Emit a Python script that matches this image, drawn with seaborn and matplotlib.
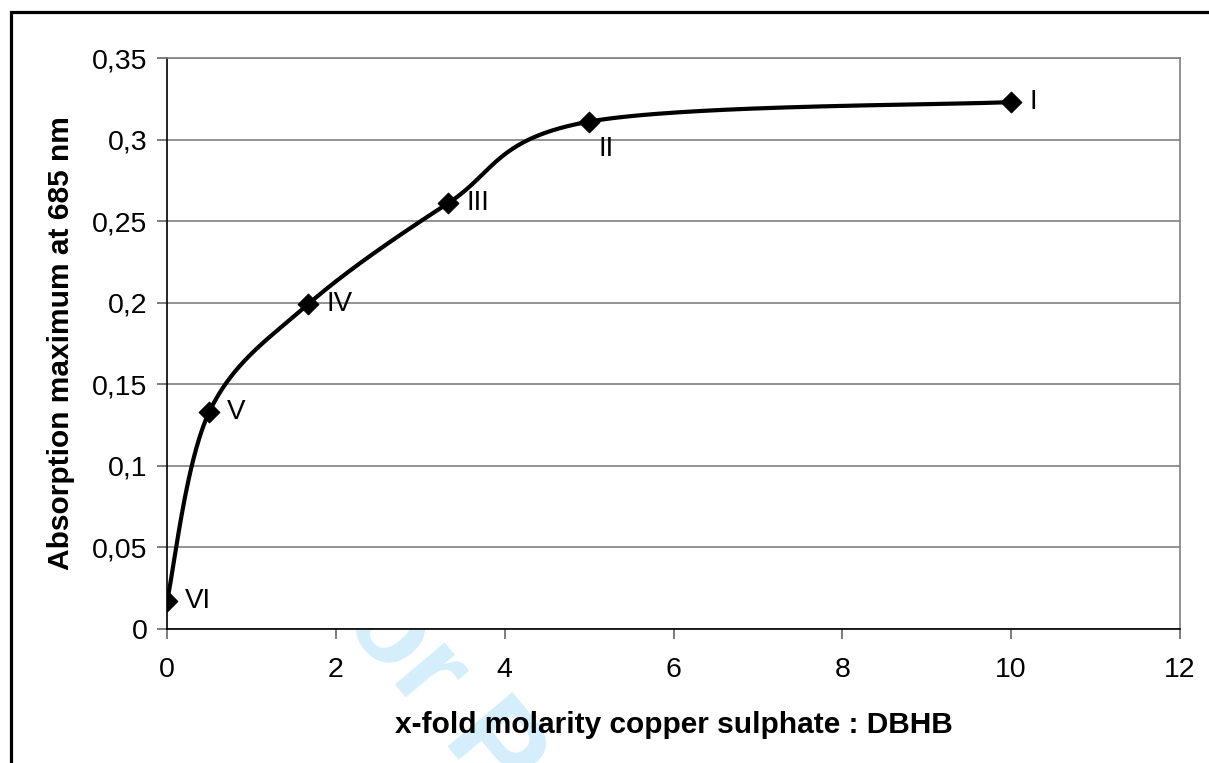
import matplotlib
matplotlib.use("Agg")
import matplotlib.pyplot as plt
import numpy as np
import pandas as pd
import seaborn as sns
from matplotlib.patches import Rectangle

# data
molarity_ratio = [0.0, 0.5, 1.67, 3.33, 5.0, 10.0]
absorption = [0.017, 0.133, 0.199, 0.261, 0.311, 0.323]
point_labels = ["VI", "V", "IV", "III", "II", "I"]
label_offsets = [(13, 0), (13, 0), (13, 0), (13, 0), (7, -20), (13, 0)]
y_ticks = [0, 0.05, 0.1, 0.15, 0.2, 0.25, 0.3, 0.35]
x_ticks = [0, 2, 4, 6, 8, 10, 12]


def smooth_curve(xs, ys, n=60):
    # Excel-style smoothed line: cubic Bezier segments with Catmull-Rom tangents
    pts = np.column_stack([xs, ys])
    padded = np.vstack([pts[0], pts, pts[-1]])
    out = []
    t = np.linspace(0, 1, n)[:, None]
    for i in range(len(pts) - 1):
        p0, p1, p2, p3 = padded[i], padded[i + 1], padded[i + 2], padded[i + 3]
        c1 = p1 + (p2 - p0) / 6
        c2 = p2 - (p3 - p1) / 6
        seg = ((1 - t) ** 3) * p1 + 3 * ((1 - t) ** 2) * t * c1 + 3 * (1 - t) * t ** 2 * c2 + t ** 3 * p2
        out.append(seg)
    curve = np.vstack(out)
    return curve[:, 0], curve[:, 1]


sns.set_theme(style="white")
plt.rcParams["font.family"] = ["Liberation Sans", "DejaVu Sans"]
plt.rcParams["text.color"] = "black"
plt.rcParams["axes.labelcolor"] = "black"
plt.rcParams["xtick.color"] = "black"
plt.rcParams["ytick.color"] = "black"

fig = plt.figure(figsize=(12.09, 7.63), dpi=100)
ax = fig.add_axes([167 / 1209, 1 - 629 / 763, (1180 - 167) / 1209, (629 - 58) / 763])

# outer frame
fig.patches.append(Rectangle((11 / 1209, -0.1), 1.2, 1 - 12 / 763 + 0.1, transform=fig.transFigure,
                             fill=False, edgecolor="black", linewidth=2.3, zorder=0))

# faint review watermark, hidden behind the plot area
fig.text(0.242, 0.262, "For Peer Review", fontsize=88, fontweight="bold", color="#d4effb",
         rotation=-50, rotation_mode="anchor", ha="left", va="baseline", zorder=-1)

df = pd.DataFrame({"x": molarity_ratio, "y": absorption, "label": point_labels})
sx, sy = smooth_curve(df["x"].to_numpy(), df["y"].to_numpy())
ax.plot(sx, sy, color="black", linewidth=3, solid_capstyle="round", zorder=3)
sns.scatterplot(data=df, x="x", y="y", marker="D", s=110, color="black", edgecolor="black",
                ax=ax, zorder=4, legend=False)

for (_, row), (dx, dy) in zip(df.iterrows(), label_offsets):
    ax.annotate(row["label"], (row["x"], row["y"]), xytext=(dx, dy), textcoords="offset points",
                fontsize=20, ha="left", va="center")

ax.set_xlim(0, 12)
ax.set_ylim(0, 0.35)
ax.set_xticks(x_ticks)
ax.set_yticks(y_ticks)
ax.set_xticklabels([str(v) for v in x_ticks])
ax.set_yticklabels([("%g" % v).replace(".", ",") for v in y_ticks])
ax.yaxis.grid(True, color="#808080", linewidth=1.2)
ax.xaxis.grid(False)
ax.set_axisbelow(True)

for side in ["top", "right"]:
    ax.spines[side].set_color("#808080")
    ax.spines[side].set_linewidth(1.2)
for side in ["left", "bottom"]:
    ax.spines[side].set_color("black")
    ax.spines[side].set_linewidth(1.2)

ax.tick_params(axis="both", which="major", direction="out", length=7, width=1.2,
               color="#666666", labelcolor="black", labelsize=20.5, pad=7, left=True, bottom=True)
ax.tick_params(axis="x", pad=13)

ax.set_xlabel("x-fold molarity copper sulphate : DBHB", fontsize=21.5, fontweight="bold", labelpad=20)
ax.set_ylabel("Absorption maximum at 685 nm", fontsize=21.5, fontweight="bold", labelpad=12)

fig.savefig("out.png", dpi=100, facecolor="white")
